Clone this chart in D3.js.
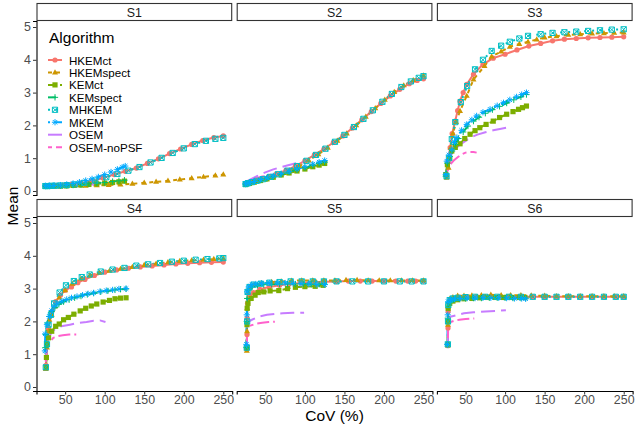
<!DOCTYPE html>
<html>
<head>
<meta charset="utf-8">
<script src="https://cdn.jsdelivr.net/npm/d3@7"></script>
<style>
body { margin: 0; background: #fff; }
text { font-family: "Liberation Sans", Arial, sans-serif; }
</style>
</head>
<body>
<svg width="635" height="427"></svg>
<script>
var algorithms = ["HKEMct", "HKEMspect", "KEMct", "KEMspect", "MHKEM", "MKEM", "OSEM", "OSEM-noPSF"];
var panels = ["S1", "S2", "S3", "S4", "S5", "S6"];
var xTicks = [50, 100, 150, 200, 250];
var yTicks = [0, 1, 2, 3, 4, 5];

// [CoV, mean] pairs for each algorithm, one table per region
var s1 = {
  "HKEMct": [[25,0.15],[27,0.15],[30,0.16],[34,0.16],[40,0.17],[48,0.18],[58,0.2],[70,0.24],[84,0.3],[98,0.4],[112,0.5],[126,0.6],[140,0.7],[154,0.84],[168,0.98],[182,1.14],[196,1.28],[210,1.42],[224,1.54],[238,1.63],[250,1.68]],
  "HKEMspect": [[25,0.14],[28,0.14],[33,0.14],[40,0.14],[50,0.14],[62,0.15],[76,0.16],[90,0.17],[105,0.18],[120,0.2],[135,0.22],[150,0.25],[165,0.28],[180,0.31],[195,0.35],[210,0.39],[225,0.43],[240,0.47],[250,0.5]],
  "KEMct": [[25,0.15],[30,0.15],[36,0.15],[44,0.15],[52,0.16],[60,0.17],[70,0.18],[80,0.2],[90,0.22],[100,0.24],[110,0.26],[118,0.28],[125,0.3]],
  "KEMspect": [[25,0.15],[30,0.15],[36,0.16],[44,0.16],[52,0.17],[60,0.18],[70,0.2],[80,0.22],[90,0.24],[100,0.26],[110,0.29],[118,0.31],[125,0.33]],
  "MHKEM": [[25,0.15],[28,0.15],[32,0.16],[37,0.16],[44,0.17],[52,0.18],[62,0.2],[74,0.25],[88,0.32],[102,0.42],[116,0.52],[130,0.62],[144,0.73],[158,0.87],[172,1.01],[186,1.16],[200,1.3],[214,1.43],[228,1.53],[240,1.59],[250,1.62]],
  "MKEM": [[25,0.16],[30,0.16],[36,0.17],[44,0.18],[52,0.2],[60,0.23],[68,0.27],[76,0.32],[84,0.37],[92,0.43],[100,0.5],[108,0.58],[116,0.66],[122,0.72],[126,0.76]],
  "OSEM": [[25,0.16],[40,0.17],[55,0.18],[70,0.19],[85,0.2],[100,0.22]],
  "OSEM-noPSF": [[25,0.15],[35,0.15],[45,0.16],[55,0.16],[62,0.17]]
};
var s2 = {
  "HKEMct": [[25,0.22],[28,0.25],[32,0.28],[38,0.32],[45,0.37],[54,0.44],[64,0.52],[76,0.63],[88,0.76],[100,0.92],[112,1.1],[124,1.28],[136,1.48],[148,1.68],[160,1.92],[172,2.17],[184,2.42],[196,2.67],[208,2.9],[220,3.1],[232,3.27],[242,3.37],[250,3.42]],
  "HKEMspect": [[25,0.2],[29,0.23],[34,0.26],[41,0.3],[49,0.35],[58,0.42],[69,0.51],[81,0.62],[93,0.76],[105,0.93],[117,1.12],[129,1.32],[141,1.53],[153,1.75],[165,2.0],[177,2.26],[189,2.52],[201,2.78],[213,3.02],[225,3.22],[237,3.38],[250,3.52]],
  "KEMct": [[25,0.2],[30,0.23],[36,0.27],[44,0.32],[52,0.37],[60,0.42],[70,0.49],[80,0.55],[90,0.61],[100,0.67],[110,0.74],[118,0.79],[125,0.84]],
  "KEMspect": [[25,0.21],[30,0.24],[36,0.28],[44,0.33],[52,0.38],[60,0.44],[70,0.51],[80,0.58],[90,0.65],[100,0.71],[110,0.78],[118,0.84],[125,0.88]],
  "MHKEM": [[25,0.21],[28,0.24],[33,0.27],[39,0.31],[47,0.36],[56,0.43],[66,0.51],[78,0.62],[90,0.76],[102,0.92],[114,1.1],[126,1.29],[138,1.5],[150,1.71],[162,1.95],[174,2.2],[186,2.46],[198,2.72],[210,2.96],[222,3.17],[234,3.34],[244,3.45],[250,3.5]],
  "MKEM": [[25,0.22],[30,0.25],[36,0.29],[44,0.35],[52,0.4],[60,0.46],[70,0.53],[80,0.6],[90,0.67],[100,0.74],[110,0.82],[118,0.88],[125,0.93]],
  "OSEM": [[25,0.28],[30,0.34],[40,0.46],[50,0.57],[60,0.66],[70,0.73],[80,0.79],[90,0.85],[100,0.9]],
  "OSEM-noPSF": [[25,0.25],[30,0.31],[38,0.38],[46,0.44],[54,0.48],[60,0.5]]
};
var s3 = {
  "HKEMct": [[26,0.46],[28,0.9],[30.5,1.32],[33,1.75],[36.8,2.13],[40,2.45],[43,2.74],[47,3.0],[51.5,3.25],[60,3.56],[72,3.86],[85,4.05],[100,4.17],[115,4.3],[130,4.42],[145,4.5],[160,4.58],[175,4.63],[190,4.65],[205,4.67],[220,4.68],[235,4.69],[250,4.7]],
  "HKEMspect": [[26,0.4],[28.5,0.71],[31,1.32],[34,1.75],[38,2.1],[43,2.44],[51.5,2.9],[60,3.4],[74,3.81],[83,4.1],[95,4.25],[106,4.4],[118,4.48],[129,4.55],[140,4.62],[150,4.68],[165,4.72],[180,4.76],[195,4.78],[210,4.8],[225,4.81],[238,4.82],[250,4.83]],
  "KEMct": [[25,0.5],[27,0.8],[30,1.0],[32.6,1.22],[37,1.33],[43,1.44],[49,1.6],[55.7,1.73],[62,1.84],[68,1.93],[76,2.03],[85,2.13],[93,2.24],[102,2.34],[110,2.42],[117,2.49],[122,2.54],[127,2.59]],
  "KEMspect": [[25,0.45],[27,0.85],[30,1.05],[33,1.22],[37,1.42],[41,1.6],[47,1.8],[53,1.98],[60,2.13],[67,2.25],[75,2.37],[84,2.48],[93,2.58],[102,2.68],[111,2.78],[120,2.87],[127,2.94]],
  "MHKEM": [[26,0.45],[29,1.0],[32.6,1.58],[37,2.1],[44,2.71],[52,3.2],[62,3.71],[72,4.0],[83,4.27],[95,4.43],[106,4.55],[118,4.65],[129,4.73],[145,4.78],[160,4.82],[175,4.84],[190,4.86],[205,4.88],[220,4.9],[235,4.92],[250,4.93]],
  "MKEM": [[25,0.5],[26.3,0.91],[29,1.1],[32.6,1.27],[36,1.48],[39,1.63],[45,1.85],[51.5,2.03],[58,2.17],[64,2.29],[72,2.4],[81,2.49],[90,2.6],[98,2.69],[106,2.78],[114.5,2.87],[121,2.94],[127,3.0]],
  "OSEM": [[27,0.8],[30.5,1.07],[35,1.22],[42,1.4],[50,1.53],[56,1.63],[65,1.72],[75,1.79],[85,1.85],[95,1.9],[102,1.93]],
  "OSEM-noPSF": [[27,0.6],[30.5,0.81],[35,0.93],[40,1.03],[45,1.12],[50,1.17],[55,1.19],[60,1.19],[64,1.17]]
};
var s4 = {
  "HKEMct": [[25.7,0.66],[27,1.3],[29,1.78],[33,2.3],[38,2.6],[44,2.8],[50,2.95],[58,3.05],[66,3.18],[75,3.28],[87,3.4],[100,3.5],[115,3.57],[130,3.62],[145,3.66],[160,3.69],[175,3.72],[190,3.75],[205,3.77],[220,3.79],[235,3.8],[250,3.81]],
  "HKEMspect": [[25.5,0.55],[27,1.2],[29,1.7],[30,2.05],[33,2.2],[37,2.45],[42.5,2.73],[50,2.95],[59,3.15],[70,3.3],[81,3.4],[93,3.48],[106,3.54],[120,3.6],[135,3.66],[150,3.72],[165,3.76],[180,3.8],[195,3.84],[210,3.86],[225,3.88],[238,3.9],[250,3.92]],
  "KEMct": [[26,0.6],[26.3,0.9],[26.6,1.3],[29,1.5],[33,1.7],[38,1.85],[42.5,1.92],[48,2.05],[54,2.12],[61,2.22],[69,2.32],[76,2.4],[83,2.47],[90,2.53],[98,2.59],[106,2.64],[113,2.69],[120,2.71],[127,2.72]],
  "KEMspect": [[25,1.2],[25.5,1.6],[27.5,1.95],[30,2.15],[33,2.3],[37,2.42],[42,2.52],[48,2.6],[55,2.66],[62,2.72],[70,2.77],[78,2.82],[86,2.86],[95,2.9],[104,2.93],[113,2.96],[120,2.98],[127,2.99]],
  "MHKEM": [[25.5,0.6],[27,1.3],[29,1.9],[32,2.2],[36,2.55],[43,2.88],[51,3.1],[61,3.23],[71,3.35],[81,3.43],[95,3.52],[110,3.58],[125,3.63],[140,3.7],[155,3.74],[170,3.78],[185,3.82],[200,3.85],[215,3.88],[230,3.9],[245,3.92],[250,3.93]],
  "MKEM": [[24.4,1.1],[24.8,1.62],[27,1.9],[30,2.15],[33,2.33],[36,2.45],[40,2.54],[46,2.62],[52,2.67],[58,2.72],[65,2.76],[72,2.8],[79,2.84],[86,2.87],[94,2.91],[102,2.94],[110,2.96],[118,2.99],[127,3.0]],
  "OSEM": [[25.5,0.8],[27,1.3],[30,1.55],[34,1.7],[38,1.78],[45,1.85],[56,1.9],[66,1.95],[77,1.98],[86,2.02],[94,2.03],[101,1.98]],
  "OSEM-noPSF": [[25.5,0.75],[27,1.2],[30,1.35],[35,1.5],[41,1.55],[47,1.58],[55,1.6],[64,1.6]]
};
var s5 = {
  "HKEMct": [[26.5,1.15],[26.8,1.6],[27,2.1],[27.5,2.55],[30,2.78],[35,2.88],[43,2.98],[55,3.05],[68,3.1],[80,3.14],[95,3.17],[110,3.19],[125,3.21],[140,3.22],[155,3.23],[170,3.23],[185,3.23],[200,3.23],[215,3.23],[230,3.23],[240,3.23],[250,3.23]],
  "HKEMspect": [[26.5,1.1],[26.8,1.7],[27,2.4],[28,2.9],[31,3.05],[36,3.12],[45,3.16],[58,3.2],[70,3.22],[83,3.24],[96,3.25],[110,3.25],[124,3.25],[138,3.25],[152,3.26],[166,3.26],[180,3.25],[194,3.25],[208,3.25],[222,3.25],[236,3.25],[250,3.25]],
  "KEMct": [[26.5,1.2],[26.8,1.9],[27,2.4],[28,2.55],[32,2.7],[37,2.8],[41,2.88],[48,2.9],[56,2.93],[67,2.94],[78,3.0],[88,3.04],[100,3.06],[113,3.07],[123,3.1]],
  "KEMspect": [[26,1.2],[26.5,2.0],[27,2.7],[29,2.95],[33,3.05],[40,3.1],[48,3.12],[58,3.13],[68,3.14],[78,3.14],[88,3.14],[98,3.14],[108,3.13],[118,3.13],[125,3.13]],
  "MHKEM": [[26.5,1.2],[27,2.0],[27.5,2.9],[30,3.05],[35,3.12],[44,3.15],[55,3.18],[68,3.2],[82,3.22],[96,3.22],[110,3.22],[124,3.22],[140,3.22],[160,3.22],[180,3.22],[200,3.22],[220,3.22],[235,3.22],[250,3.22]],
  "MKEM": [[26,1.3],[26.5,2.2],[27,2.9],[29,3.05],[33,3.12],[38,3.14],[45,3.16],[55,3.17],[65,3.17],[75,3.17],[85,3.16],[95,3.15],[105,3.14],[115,3.12],[125,3.12]],
  "OSEM": [[26.5,1.2],[27,1.97],[33,2.05],[42,2.15],[52,2.2],[62,2.23],[72,2.25],[85,2.26],[99,2.26]],
  "OSEM-noPSF": [[26.5,1.15],[27,1.75],[31,1.87],[38,1.93],[46,1.96],[54,1.98],[62,1.99]]
};
var s6 = {
  "HKEMct": [[27.6,1.26],[27.8,1.8],[28,2.3],[29,2.55],[31,2.63],[35,2.68],[42,2.71],[52,2.73],[64,2.74],[78,2.75],[92,2.75],[106,2.75],[120,2.75],[135,2.75],[150,2.75],[165,2.75],[180,2.75],[195,2.75],[210,2.75],[225,2.75],[240,2.75],[250,2.75]],
  "HKEMspect": [[27.6,1.26],[27.8,1.9],[28,2.45],[30,2.68],[34,2.74],[40,2.78],[48,2.78],[58,2.79],[70,2.8],[82,2.81],[95,2.8],[107,2.8],[120,2.8],[133,2.79],[150,2.78],[165,2.77],[180,2.77],[195,2.77],[210,2.77],[225,2.77],[238,2.77],[250,2.77]],
  "KEMct": [[27.6,1.3],[27.8,2.0],[28,2.4],[30,2.55],[34,2.62],[40,2.66],[48,2.69],[58,2.7],[68,2.72],[78,2.73],[88,2.73],[98,2.73],[108,2.73],[118,2.73],[125,2.73]],
  "KEMspect": [[27.2,1.3],[27.6,2.1],[28,2.5],[30.5,2.62],[35,2.67],[42,2.69],[50,2.7],[60,2.71],[70,2.71],[80,2.72],[90,2.72],[100,2.72],[110,2.71],[120,2.71],[126,2.71]],
  "MHKEM": [[27.6,1.3],[27.8,2.0],[28.2,2.5],[30,2.65],[34,2.7],[40,2.72],[50,2.74],[62,2.75],[75,2.75],[90,2.75],[105,2.75],[120,2.75],[135,2.75],[150,2.75],[165,2.75],[180,2.75],[195,2.75],[210,2.75],[225,2.75],[240,2.75],[250,2.75]],
  "MKEM": [[27,1.3],[27.5,2.2],[28,2.6],[31,2.66],[36,2.68],[43,2.7],[52,2.71],[62,2.71],[72,2.72],[82,2.72],[92,2.72],[102,2.71],[112,2.7],[121,2.7],[126,2.69]],
  "OSEM": [[27.6,1.3],[28,2.1],[32,2.15],[40,2.2],[48,2.25],[60,2.28],[75,2.3],[90,2.32],[101,2.34]],
  "OSEM-noPSF": [[27.6,1.25],[28,1.9],[31,1.98],[36,2.02],[42,2.05],[50,2.07],[56,2.08],[61,2.09]]
};
var panelData = [s1, s2, s3, s4, s5, s6];

var colors = ["#F8766D", "#CD9600", "#7CAE00", "#00BE67", "#00BFC4", "#00A9FF", "#C77CFF", "#FF61CC"];
var lw = 2;
var dashes = ["", "22", "42", "44", "13", "1343", "73", "2262"];
var shapes = ["circle", "triangle", "square", "plus", "squarex", "asterisk", null, null];

var svg = d3.select("svg");

var color = d3.scaleOrdinal().domain(algorithms).range(colors);

var panelW = 195.7, panelH = 174, stripH = 18;
var left0 = 36.5, colGap = 4.5, top0 = 3, rowGap = 4;

var x = d3.scaleLinear().domain([13.75, 261.25]).range([0, panelW]);
var y = d3.scaleLinear().domain([-0.122, 5.183]).range([panelH, 0]);

function dashArray(code) {
  if (!code) return null;
  return code.split("").map(function(c) { return parseInt(c, 16) * lw; }).join(",");
}

function symbolPath(type) {
  var r = 2.6;
  if (type == "circle") return d3.symbol().type(d3.symbolCircle).size(Math.PI * r * r)();
  if (type == "triangle") return "M0," + (-r * 1.25) + "L" + (r * 1.15) + "," + (r * 0.75) + "L" + (-r * 1.15) + "," + (r * 0.75) + "Z";
  if (type == "square") return "M" + (-r) + "," + (-r) + "h" + (2 * r) + "v" + (2 * r) + "h" + (-2 * r) + "Z";
  if (type == "plus") return "M" + (-r * 1.2) + ",0H" + (r * 1.2) + "M0," + (-r * 1.2) + "V" + (r * 1.2);
  if (type == "squarex") return "M" + (-r) + "," + (-r) + "h" + (2 * r) + "v" + (2 * r) + "h" + (-2 * r) + "Z" +
    "M" + (-r) + "," + (-r) + "L" + r + "," + r + "M" + r + "," + (-r) + "L" + (-r) + "," + r;
  if (type == "asterisk") {
    var d = r * 0.85;
    return "M" + (-r * 1.2) + ",0H" + (r * 1.2) + "M0," + (-r * 1.2) + "V" + (r * 1.2) +
      "M" + (-d) + "," + (-d) + "L" + d + "," + d + "M" + d + "," + (-d) + "L" + (-d) + "," + d;
  }
  return null;
}
function isFilled(type) { return type == "circle" || type == "triangle" || type == "square"; }

var line = d3.line()
  .x(function(d) { return x(d[0]); })
  .y(function(d) { return y(d[1]); });

panels.forEach(function(name, i) {
  var col = i % 3, row = Math.floor(i / 3);
  var px = left0 + col * (panelW + colGap);
  var sy = top0 + row * (stripH + panelH + rowGap);
  var py = sy + stripH;

  // strip
  svg.append("rect")
    .attr("x", px + 0.5).attr("y", sy + 0.5)
    .attr("width", panelW - 1).attr("height", stripH - 1)
    .attr("fill", "#fff").attr("stroke", "#333").attr("stroke-width", 1.1);
  svg.append("text")
    .attr("x", px + panelW / 2).attr("y", sy + stripH / 2 + 0.5)
    .attr("text-anchor", "middle").attr("dominant-baseline", "central")
    .attr("font-size", 12.4).attr("fill", "#1A1A1A")
    .text(name);

  var g = svg.append("g").attr("transform", "translate(" + px + "," + py + ")");
  var data = panelData[i];

  // lines first, then points, like the layer order
  algorithms.forEach(function(a, k) {
    g.append("path")
      .datum(data[a])
      .attr("d", line)
      .attr("fill", "none")
      .attr("stroke", color(a))
      .attr("stroke-width", lw)
      .attr("stroke-dasharray", dashArray(dashes[k]));
  });
  algorithms.forEach(function(a, k) {
    if (!shapes[k]) return;
    var sp = symbolPath(shapes[k]);
    g.selectAll(null)
      .data(data[a])
      .enter().append("path")
      .attr("transform", function(d) { return "translate(" + x(d[0]) + "," + y(d[1]) + ")"; })
      .attr("d", sp)
      .attr("fill", isFilled(shapes[k]) ? color(a) : "none")
      .attr("stroke", color(a))
      .attr("stroke-width", isFilled(shapes[k]) ? 0 : 1);
  });

  if (col == 0) {
    var ya = g.append("g").call(d3.axisLeft(y).tickValues(yTicks).tickFormat(d3.format("d")).tickSize(3.5).tickPadding(2));
    ya.select(".domain").attr("stroke", "#000").attr("stroke-width", 1.1);
    ya.selectAll(".tick line").attr("stroke", "#333");
    ya.selectAll(".tick text").attr("font-size", 12.4).attr("fill", "#4D4D4D").attr("font-family", "Liberation Sans, Arial, sans-serif");
  }
  if (row == 1) {
    var xa = g.append("g").attr("transform", "translate(0," + panelH + ")")
      .call(d3.axisBottom(x).tickValues(xTicks).tickFormat(d3.format("d")).tickSize(3.5).tickPadding(1));
    xa.select(".domain").attr("stroke", "#000").attr("stroke-width", 1.1);
    xa.selectAll(".tick line").attr("stroke", "#333");
    xa.selectAll(".tick text").attr("font-size", 12.4).attr("fill", "#4D4D4D").attr("font-family", "Liberation Sans, Arial, sans-serif");
  }
});

// axis titles
svg.append("text")
  .attr("x", left0 + (3 * panelW + 2 * colGap) / 2).attr("y", 421)
  .attr("text-anchor", "middle").attr("font-size", 15.5).attr("fill", "#000")
  .text("CoV (%)");
svg.append("text")
  .attr("transform", "translate(18,206) rotate(-90)")
  .attr("text-anchor", "middle").attr("font-size", 15.5).attr("fill", "#000")
  .text("Mean");

// legend inside S1
var legend = svg.append("g").attr("transform", "translate(49,0)");
legend.append("text")
  .attr("x", 0).attr("y", 43)
  .attr("font-size", 15.5).attr("fill", "#000")
  .text("Algorithm");
algorithms.forEach(function(a, k) {
  var ly = 60 + k * 12.45;
  var item = legend.append("g").attr("transform", "translate(0," + ly + ")");
  item.append("line")
    .attr("x1", -1).attr("x2", 13).attr("y1", 0).attr("y2", 0)
    .attr("stroke", color(a)).attr("stroke-width", lw)
    .attr("stroke-dasharray", dashArray(dashes[k]));
  if (shapes[k]) {
    item.append("path")
      .attr("transform", "translate(6,0)")
      .attr("d", symbolPath(shapes[k]))
      .attr("fill", isFilled(shapes[k]) ? color(a) : "none")
      .attr("stroke", color(a))
      .attr("stroke-width", isFilled(shapes[k]) ? 0 : 1);
  }
  item.append("text")
    .attr("x", 20).attr("y", 0)
    .attr("dominant-baseline", "central")
    .attr("font-size", 11.6)
    .attr("fill", "#000")
    .text(a);
});
</script>
</body>
</html>
